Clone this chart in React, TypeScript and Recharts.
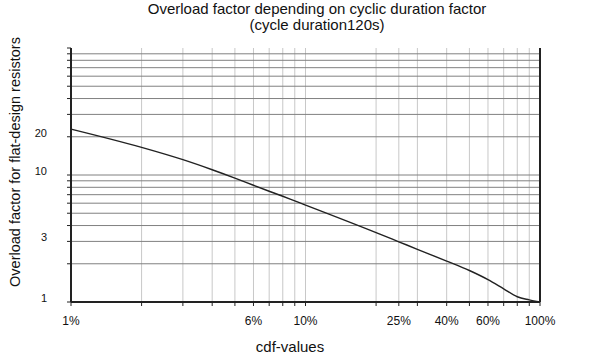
import { CartesianGrid, Line, LineChart, ReferenceLine, XAxis, YAxis } from 'recharts';

// cdf values in %, overload factor
const cdfValues = [1, 2, 3, 4, 5, 6, 7, 8, 9, 10, 20, 25, 30, 40, 50, 60, 70, 80, 90, 100];
const overloadFactor = [23, 16.5, 13.2, 11.0, 9.45, 8.3, 7.45, 6.8, 6.25, 5.8, 3.52, 2.98, 2.6, 2.1, 1.77, 1.5, 1.27, 1.1, 1.04, 1.0];

const xGridValues = [1, 2, 3, 4, 5, 6, 7, 8, 9, 10, 20, 25, 30, 40, 50, 60, 70, 80, 90, 100];
const xTickLabels = [1, 6, 10, 25, 40, 60, 100];

const yTickValues = [1, 2, 3, 4, 5, 6, 7, 8, 9, 10, 20, 30, 40, 50, 60, 70, 80, 90, 100];
const yGridValues = [2, 3, 4, 5, 6, 7, 8, 9, 10, 20, 30, 40, 50, 60, 70, 80, 90];
const yTickLabels = [1, 3, 10, 20];

const data = cdfValues.map((cdf, i) => ({ cdf, factor: overloadFactor[i] }));

const FONT = '"Liberation Sans", Arial, sans-serif';

export default function App() {
  return (
    <div style={{ position: 'relative', width: 592, height: 357, fontFamily: FONT, background: '#fff' }}>
      <style>{'body{margin:0}'}</style>
      <div
        style={{
          position: 'absolute',
          left: 0,
          width: 634,
          top: 1,
          textAlign: 'center',
          fontSize: 15,
          lineHeight: '16px',
          color: '#111',
        }}
      >
        Overload factor depending on cyclic duration factor
        <br />
        (cycle duration120s)
      </div>
      <div
        style={{
          position: 'absolute',
          left: 15,
          top: 162,
          transform: 'translate(-50%, -50%) rotate(-90deg)',
          whiteSpace: 'nowrap',
          fontSize: 14.5,
          color: '#111',
        }}
      >
        Overload factor for flat-design resistors
      </div>
      <div
        style={{
          position: 'absolute',
          left: 290,
          top: 346,
          transform: 'translate(-50%, -50%)',
          fontSize: 15,
          color: '#111',
        }}
      >
        cdf-values
      </div>
      <LineChart width={592} height={357} data={data} margin={{ top: 48, right: 52, left: 0, bottom: 25 }}>
        <CartesianGrid horizontal={false} stroke="#c8c8c8" strokeWidth={1} />
        {yGridValues.map((v) => (
          <ReferenceLine key={v} y={v} stroke="#808080" strokeWidth={1} />
        ))}
        <XAxis
          dataKey="cdf"
          type="number"
          scale="log"
          domain={[1, 100]}
          ticks={xGridValues}
          interval={0}
          height={30}
          tickFormatter={(v: number) => (xTickLabels.includes(v) ? `${v}%` : '')}
          axisLine={{ stroke: '#222', strokeWidth: 2 }}
          tickLine={{ stroke: '#222' }}
          tickSize={4}
          tickMargin={10}
          tick={{ fill: '#111', fontSize: 12, fontFamily: FONT }}
        />
        <YAxis
          type="number"
          scale="log"
          domain={[1, 100]}
          ticks={yTickValues}
          interval={0}
          width={71}
          tickFormatter={(v: number) => (yTickLabels.includes(v) ? String(v) : '')}
          axisLine={{ stroke: '#222', strokeWidth: 2 }}
          tickLine={{ stroke: '#222' }}
          tickSize={4}
          tickMargin={20}
          tick={{ fill: '#111', fontSize: 11, fontFamily: FONT, dy: -4 }}
        />
        <ReferenceLine x={100} stroke="#222" strokeWidth={2} />
        <Line
          type="monotone"
          dataKey="factor"
          stroke="#222"
          strokeWidth={1.4}
          dot={false}
          isAnimationActive={false}
        />
      </LineChart>
    </div>
  );
}
